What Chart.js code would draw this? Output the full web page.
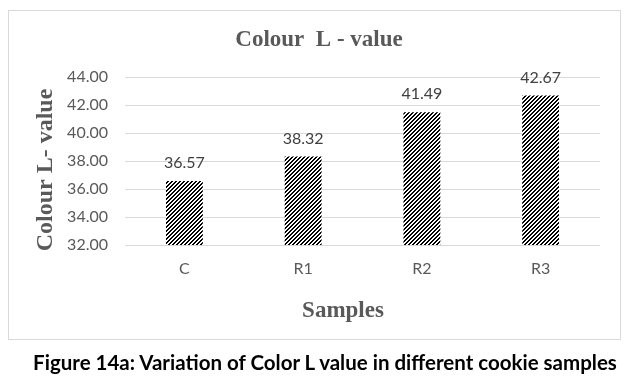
<!DOCTYPE html>
<html>
<head>
<meta charset="utf-8">
<script src="https://cdn.jsdelivr.net/npm/chart.js@4"></script>
<style>
  html, body { margin: 0; padding: 0; background: #fff; }
  #wrap { position: relative; width: 630px; height: 388px; overflow: hidden; }
  #box { position: absolute; left: 8px; top: 10px; width: 611px; height: 328px; border: 1.5px solid #d9d9d9; }
  #chart { position: absolute; left: 0; top: 0; }
  #caption { position: absolute; left: 0; width: 650px; top: 350px; text-align: center;
    font-family: Lato, "Open Sans", sans-serif; font-weight: bold; font-size: 20.5px; color: #000; }
</style>
</head>
<body>
<div id="wrap">
  <div id="box"></div>
  <canvas id="chart" width="630" height="388"></canvas>
  <div id="caption">Figure 14a: Variation of Color L value in different cookie samples</div>
</div>
<script>
const categories = ["C", "R1", "R2", "R3"];
const lValues = [36.57, 38.32, 41.49, 42.67];
const yTicks = [32, 34, 36, 38, 40, 42, 44];
const chartTitle = "Colour  L - value";
const yTitle = "Colour L- value";
const xTitle = "Samples";

function makePattern() {
  const c = document.createElement('canvas');
  c.width = 4; c.height = 4;
  const g = c.getContext('2d');
  const img = g.createImageData(4, 4);
  for (let y = 0; y < 4; y++) {
    for (let x = 0; x < 4; x++) {
      const on = ((x + y) % 4) < 2;
      const v = on ? 0 : 255;
      const i = (y * 4 + x) * 4;
      img.data[i] = v; img.data[i + 1] = v; img.data[i + 2] = v; img.data[i + 3] = 255;
    }
  }
  g.putImageData(img, 0, 0);
  return document.getElementById('chart').getContext('2d').createPattern(c, 'repeat');
}

const overlay = {
  id: 'overlay',
  afterDatasetsDraw(chart) {
    const ctx = chart.ctx;
    const meta = chart.getDatasetMeta(0);
    ctx.save();
    ctx.fillStyle = '#404040';
    ctx.font = '16px Lato, sans-serif';
    ctx.textAlign = 'center';
    ctx.textBaseline = 'alphabetic';
    meta.data.forEach((bar, i) => {
      ctx.fillText(lValues[i].toFixed(2), bar.x, bar.y - 13);
    });
    ctx.fillStyle = '#595959';
    ctx.font = 'bold 23px "Liberation Serif", serif';
    ctx.textBaseline = 'middle';
    ctx.fillText(chartTitle, 319, 40);
    ctx.fillText(xTitle, 343, 311);
    ctx.translate(46, 170);
    ctx.rotate(-Math.PI / 2);
    ctx.font = 'bold 24px "Liberation Serif", serif';
    ctx.fillText(yTitle, 0, 0);
    ctx.restore();
  }
};

new Chart(document.getElementById('chart'), {
  type: 'bar',
  data: {
    labels: categories,
    datasets: [{
      data: lValues,
      backgroundColor: makePattern(),
      borderWidth: 0,
      barPercentage: 0.31,
      categoryPercentage: 1.0
    }]
  },
  options: {
    responsive: false,
    animation: false,
    events: [],
    layout: { padding: { left: 0, right: 30, top: 77, bottom: 0 } },
    plugins: { legend: { display: false }, tooltip: { enabled: false }, title: { display: false } },
    scales: {
      x: {
        grid: { display: false },
        border: { display: false },
        ticks: { color: '#595959', font: { family: 'Lato', size: 16 }, padding: 6 },
        afterFit(s) { s.height = 143; }
      },
      y: {
        min: 32, max: 44,
        afterBuildTicks(s) { s.ticks = yTicks.map(v => ({ value: v })); },
        grid: { color: '#d9d9d9', lineWidth: 1, drawTicks: false },
        border: { display: false },
        ticks: { color: '#595959', font: { family: 'Lato', size: 16 }, padding: 17,
          callback: v => Number(v).toFixed(2) },
        afterFit(s) { s.width = 125; }
      }
    }
  },
  plugins: [overlay]
});
</script>
</body>
</html>
